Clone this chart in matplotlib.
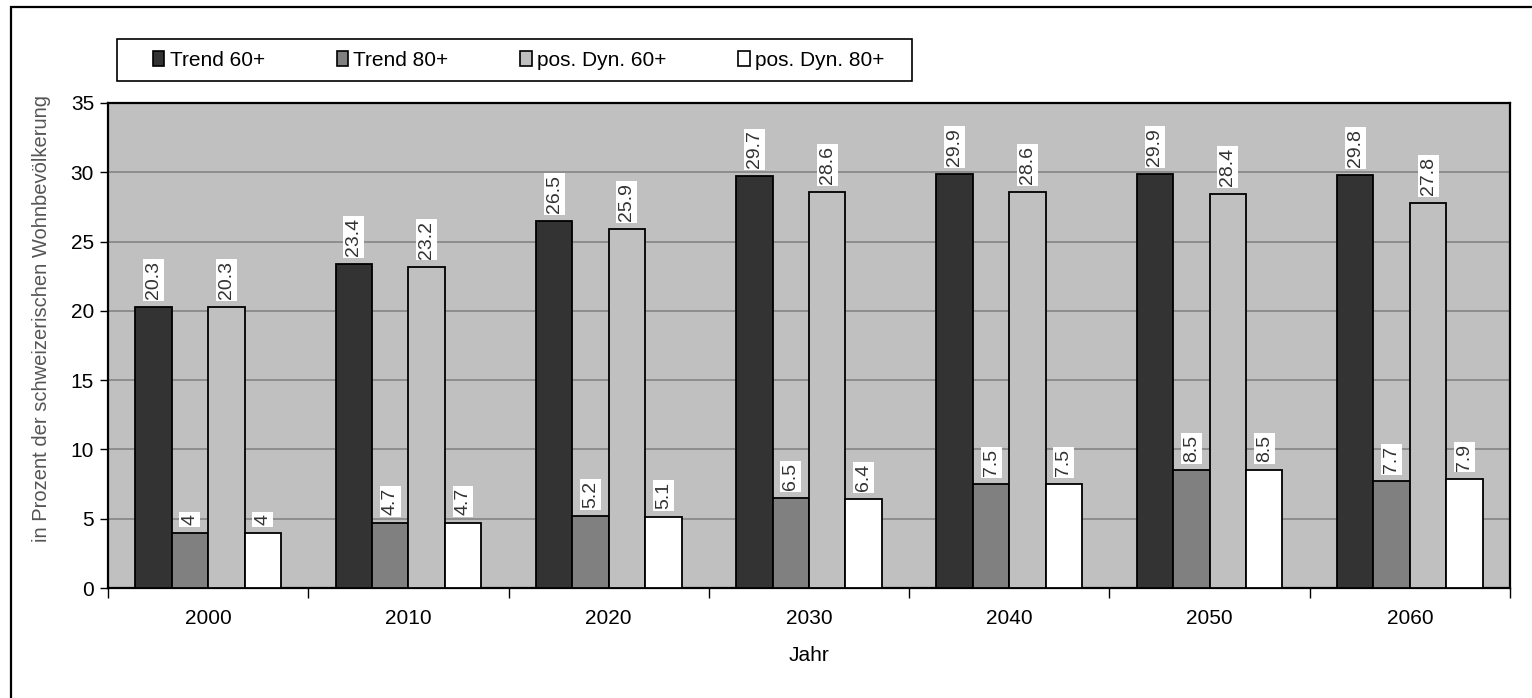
import matplotlib
matplotlib.use("Agg")
import matplotlib.pyplot as plt
import numpy as np
from matplotlib.patches import Patch, Rectangle

plt.rcParams["font.family"] = ["Liberation Sans", "DejaVu Sans"]

# Daten
jahre = ["2000", "2010", "2020", "2030", "2040", "2050", "2060"]
trend_60 = [20.3, 23.4, 26.5, 29.7, 29.9, 29.9, 29.8]
trend_80 = [4, 4.7, 5.2, 6.5, 7.5, 8.5, 7.7]
dyn_60 = [20.3, 23.2, 25.9, 28.6, 28.6, 28.4, 27.8]
dyn_80 = [4, 4.7, 5.1, 6.4, 7.5, 8.5, 7.9]

serien = ["Trend 60+", "Trend 80+", "pos. Dyn. 60+", "pos. Dyn. 80+"]
farben = ["#333333", "#808080", "#c0c0c0", "#ffffff"]

W, H = 1532, 698
fig = plt.figure(figsize=(W / 100, H / 100), dpi=100)

# Rahmen um die ganze Grafik (rechts/unten abgeschnitten)
fig.patches.append(Rectangle((11 / W, -0.05), 1.2, 1 - 7 / H + 0.05,
                             transform=fig.transFigure, fill=False,
                             edgecolor="black", linewidth=1.6))

ax = fig.add_axes([108 / W, 1 - 588 / H, (1510 - 108) / W, (588 - 103) / H])
ax.set_facecolor("#c0c0c0")

x = np.arange(len(jahre))
breite = 1 / 5.5
werte = [trend_60, trend_80, dyn_60, dyn_80]
for k, (vals, farbe) in enumerate(zip(werte, farben)):
    pos = x + (k - 1.5) * breite
    ax.bar(pos, vals, width=breite, color=farbe, edgecolor="black",
           linewidth=1.3, zorder=3)
    for xp, v in zip(pos, vals):
        ax.annotate(f"{v:g}", (xp, v), xytext=(0, 8), textcoords="offset pixels",
                    ha="center", va="bottom", rotation=90, fontsize=14,
                    color="#333333", zorder=4,
                    bbox=dict(boxstyle="square,pad=0.1", facecolor="white",
                              edgecolor="none"))

ax.set_xlim(-0.5, len(jahre) - 0.5)
ax.set_ylim(0, 35)
ax.set_yticks(range(0, 36, 5))
ax.yaxis.grid(True, color="#808080", linewidth=1.1, zorder=0)
ax.set_axisbelow(True)

ax.set_xticks(np.arange(-0.5, len(jahre), 1.0))
ax.set_xticklabels([])
ax.set_xticks(x, minor=True)
ax.set_xticklabels(jahre, minor=True, fontsize=15)
ax.tick_params(axis="x", which="major", length=7, width=1, direction="out")
ax.tick_params(axis="x", which="minor", length=0, pad=15)
ax.tick_params(axis="y", length=6, width=1, labelsize=15, pad=4)

for s in ax.spines.values():
    s.set_color("black")
    s.set_linewidth(1.6)

ax.set_xlabel("Jahr", fontsize=15, labelpad=13)
fig.text(42 / W, 1 - 318 / H, "in Prozent der schweizerischen Wohnbevölkerung",
         rotation=90, ha="center", va="center", fontsize=14.5, color="#555555")

# Legende
fig.patches.append(Rectangle((117 / W, 1 - 81 / H), (912 - 117) / W, 42 / H,
                             transform=fig.transFigure, fill=True,
                             facecolor="white", edgecolor="black", linewidth=1.2))
handles = [Patch(facecolor=f, edgecolor="black", linewidth=1.2) for f in farben]
fig.legend(handles, serien, loc="center left",
           bbox_to_anchor=(153 / W, 1 - 60 / H), ncol=4, frameon=False,
           fontsize=15, handlelength=0.55, handleheight=0.7,
           handletextpad=0.25, columnspacing=3.45, borderpad=0, borderaxespad=0)

fig.savefig("out.png", dpi=100)
